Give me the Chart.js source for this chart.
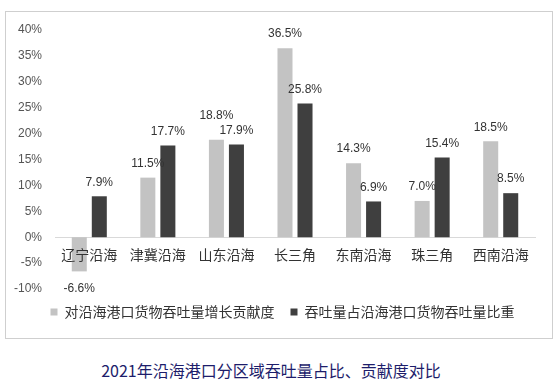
<!DOCTYPE html>
<html lang="zh">
<head>
  <meta charset="UTF-8" />
  <title>2021年沿海港口分区域吞吐量占比、贡献度对比</title>
  <script src="https://cdn.jsdelivr.net/npm/chart.js"></script>
  <style>
    body {
      margin: 0;
      background: #fff;
      width: 560px;
      height: 391px;
      position: relative;
      font-family: "Noto Sans CJK SC", sans-serif;
    }
    .box {
      position: absolute;
      left: 5px;
      top: 11px;
      width: 546px;
      height: 326px;
      border: 1px solid #cfcfcf;
    }
    .caption {
      position: absolute;
      left: -9px;
      width: 560px;
      top: 360px;
      line-height: 20px;
      text-align: center;
      font-size: 16px;
      color: #1d1d6b;
    }
  </style>
</head>
<body>
  <div class="box"><canvas id="chart" width="546" height="326"></canvas></div>
  <div class="caption">2021年沿海港口分区域吞吐量占比、贡献度对比</div>

  <script>
    const regions = ["辽宁沿海", "津冀沿海", "山东沿海", "长三角", "东南沿海", "珠三角", "西南沿海"];
    const contribution = [-6.6, 11.5, 18.8, 36.5, 14.3, 7.0, 18.5];
    const share = [7.9, 17.7, 17.9, 25.8, 6.9, 15.4, 8.5];
    const seriesNames = ["对沿海港口货物吞吐量增长贡献度", "吞吐量占沿海港口货物吞吐量比重"];
    const yTicks = [-10, 0, 40, 5]; // min, zero, max, step

    // category names sit on top of the bars just under the zero line,
    // value labels above / below each bar, nudged apart when two collide
    const valueLabels = {
      id: "valueLabels",
      afterLayout(chart) {
        // legend sits a little right of centre in the original
        chart.legend.left += 8;
        chart.legend.right += 8;
      },
      afterDatasetsDraw(chart) {
        const ctx = chart.ctx;
        const xs = chart.scales.x;
        const zeroY = chart.scales.y.getPixelForValue(0);
        ctx.save();
        ctx.textAlign = "center";
        ctx.textBaseline = "middle";

        ctx.font = "14px 'Noto Sans CJK SC', sans-serif";
        ctx.fillStyle = "#333";
        regions.forEach((name, i) => ctx.fillText(name, xs.getPixelForTick(i), zeroY + 17));

        ctx.font = "12px 'Liberation Sans', sans-serif";
        const metaA = chart.getDatasetMeta(0).data;
        const metaB = chart.getDatasetMeta(1).data;
        regions.forEach((_, j) => {
          const items = [
            { v: contribution[j], bar: metaA[j] },
            { v: share[j], bar: metaB[j] }
          ].map(it => {
            const txt = it.v.toFixed(1) + "%";
            const w = ctx.measureText(txt).width;
            const y = it.v >= 0 ? it.bar.y - 14 : it.bar.y + 17;
            return { txt, x: it.bar.x, y, w, v: it.v };
          });
          const [a, b] = items;
          const xOverlap = Math.abs(a.x - b.x) < (a.w + b.w) / 2;
          if (xOverlap && Math.abs(a.y - b.y) < 15 && a.v >= 0 && b.v >= 0) {
            if (a.y <= b.y) a.y = b.y - 15; else b.y = a.y - 15;
          }
          items.forEach(it => ctx.fillText(it.txt, it.x, it.y));
        });
        ctx.restore();
      }
    };

    new Chart(document.getElementById("chart"), {
      type: "bar",
      data: {
        labels: regions,
        datasets: [
          { label: seriesNames[0], data: contribution, backgroundColor: "#c3c3c3" },
          { label: seriesNames[1], data: share, backgroundColor: "#3f3f3f" }
        ]
      },
      options: {
        responsive: false,
        animation: false,
        categoryPercentage: 0.584,
        barPercentage: 0.75,
        layout: { padding: { left: 8, right: 17, top: 18, bottom: 9 } },
        plugins: {
          legend: {
            position: "bottom",
            labels: {
              boxWidth: 7,
              boxHeight: 7,
              padding: 16,
              color: "#333",
              font: { size: 14, family: "'Noto Sans CJK SC', sans-serif" }
            }
          },
          tooltip: { enabled: false }
        },
        scales: {
          x: {
            position: { y: yTicks[1] },
            grid: { display: false, drawTicks: false },
            border: { display: true, color: "#d9d9d9" },
            ticks: { display: false }
          },
          y: {
            min: yTicks[0],
            max: yTicks[2],
            grid: { display: false, drawTicks: false },
            border: { display: false },
            afterFit(scale) {
              scale.width = 41;
              scale.paddingTop = 0;
              scale.paddingBottom = 0;
            },
            ticks: {
              stepSize: yTicks[3],
              color: "#555",
              padding: 13,
              font: { size: 12, family: "'Liberation Sans', sans-serif" },
              callback: v => v + "%"
            }
          }
        }
      },
      plugins: [valueLabels]
    });
  </script>
</body>
</html>
